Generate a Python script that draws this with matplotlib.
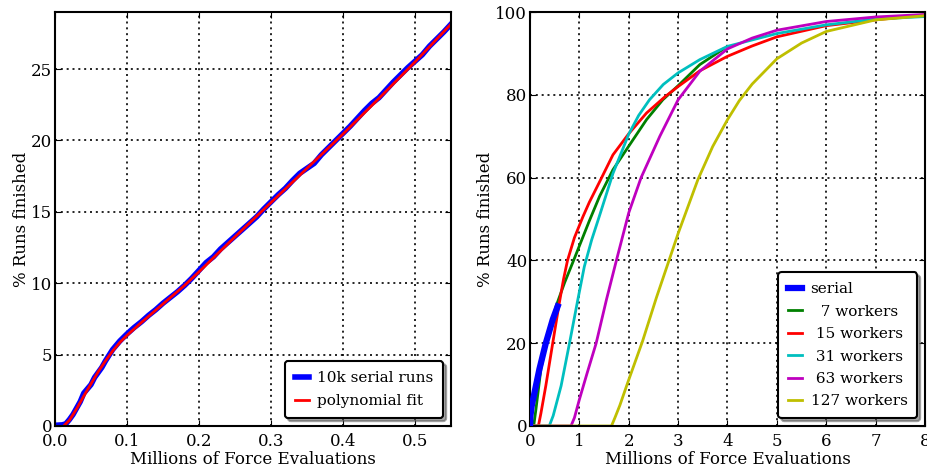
import matplotlib
matplotlib.use("Agg")
import matplotlib.pyplot as plt

# data: serial runs (left panel)
serial_x = [0.0, 0.01, 0.015, 0.02, 0.025, 0.03, 0.035, 0.04, 0.045, 0.05, 0.055, 0.06,
            0.065, 0.07, 0.075, 0.08, 0.085, 0.09, 0.095, 0.10, 0.11, 0.12, 0.13, 0.14,
            0.15, 0.16, 0.17, 0.18, 0.19, 0.20, 0.21, 0.22, 0.23, 0.24, 0.25, 0.26,
            0.27, 0.28, 0.29, 0.30, 0.31, 0.32, 0.33, 0.34, 0.35, 0.36, 0.37, 0.38,
            0.39, 0.40, 0.41, 0.42, 0.43, 0.44, 0.45, 0.46, 0.47, 0.48, 0.49, 0.50,
            0.51, 0.52, 0.53, 0.54, 0.55]
serial_y = [0.05, 0.08, 0.15, 0.45, 0.8, 1.25, 1.7, 2.3, 2.6, 2.9, 3.4, 3.75,
            4.1, 4.55, 4.95, 5.35, 5.65, 5.95, 6.2, 6.45, 6.9, 7.3, 7.75, 8.15,
            8.6, 9.0, 9.4, 9.85, 10.35, 10.9, 11.45, 11.85, 12.4, 12.85, 13.3, 13.75,
            14.2, 14.65, 15.2, 15.7, 16.2, 16.65, 17.2, 17.7, 18.05, 18.4, 19.0, 19.5,
            20.0, 20.5, 21.0, 21.55, 22.1, 22.6, 23.0, 23.55, 24.1, 24.6, 25.1, 25.55,
            26.0, 26.6, 27.1, 27.6, 28.15]

fit_x = [0.012, 0.02, 0.03, 0.04, 0.05, 0.06, 0.07, 0.08, 0.09, 0.10, 0.12, 0.15,
         0.18, 0.20, 0.25, 0.30, 0.35, 0.40, 0.45, 0.50, 0.55]
fit_y = [0.0, 0.4, 1.2, 2.1, 2.95, 3.8, 4.55, 5.25, 5.85, 6.35, 7.25, 8.55,
         9.85, 10.8, 13.25, 15.65, 18.05, 20.45, 22.95, 25.5, 28.15]

# data: parallel runs (right panel)
ser_x = [0, 0.01, 0.034, 0.09, 0.19, 0.32, 0.46, 0.56]
ser_y = [0, 2.5, 4.8, 8, 13.7, 20, 25.7, 28.9]

w7_x = [0, 0.075, 0.12, 0.22, 0.36, 0.53, 0.70, 0.90, 1.0, 1.2, 1.41, 1.68, 2.0,
        2.36, 2.69, 3.0, 3.44, 3.91]
w7_y = [0, 0, 4, 13.7, 21.7, 29, 34.6, 40.5, 43.5, 49.5, 55.5, 61.9, 67.6,
        74, 78.8, 82.2, 87.3, 91]

w15_x = [0, 0.17, 0.22, 0.32, 0.46, 0.59, 0.68, 0.76, 0.9, 1.07, 1.2, 1.41, 1.68, 2.0,
         2.36, 2.73, 3.0, 3.44, 4.0, 4.5, 5.0, 6.0, 7.0, 8.0]
w15_y = [0, 0, 3, 9.7, 20, 29.5, 35.5, 40, 45.5, 50.5, 54, 59, 65.5, 70.6,
         75.6, 79.5, 82, 85.8, 89.3, 91.8, 94, 96.7, 98.1, 99.3]

w31_x = [0, 0.39, 0.47, 0.63, 0.80, 0.97, 1.10, 1.25, 1.4, 1.68, 2.0, 2.2, 2.42, 2.7,
         3.0, 3.44, 4.0, 5.0, 6.0, 7.0, 8.0]
w31_y = [0, 0, 2.5, 9.7, 20, 30.6, 38.5, 45, 50.5, 61, 70.5, 75, 78.8, 82.5,
         85.3, 88.5, 91.7, 94.8, 96.9, 98.3, 98.9]

w63_x = [0, 0.83, 0.9, 1.0, 1.15, 1.34, 1.55, 1.75, 2.0, 2.25, 2.63, 3.0, 3.44, 4.0,
         4.5, 5.0, 6.0, 7.0, 8.0]
w63_y = [0, 0, 2, 6.4, 12.5, 20, 30.6, 40, 51.5, 60, 70, 78.8, 85.7, 91.1,
         93.7, 95.6, 97.7, 98.8, 99.4]

w127_x = [0, 1.65, 1.72, 1.82, 1.98, 2.28, 2.56, 2.83, 3.0, 3.4, 3.7, 4.0, 4.24, 4.5,
          5.0, 5.5, 6.0, 7.0, 8.0]
w127_y = [0, 0, 2, 5, 10.5, 20.5, 31, 40.5, 46.5, 59.5, 67.5, 74, 78.6, 82.6,
          88.7, 92.5, 95.3, 98.1, 99.1]

workers = [("  7 workers", w7_x, w7_y, (0, 0.5, 0)),
           (" 15 workers", w15_x, w15_y, (1, 0, 0)),
           (" 31 workers", w31_x, w31_y, (0, 0.75, 0.75)),
           (" 63 workers", w63_x, w63_y, (0.75, 0, 0.75)),
           ("127 workers", w127_x, w127_y, (0.75, 0.75, 0))]

plt.rcParams["font.family"] = ["DejaVu Serif"]
plt.rcParams["font.size"] = 12
plt.rcParams["legend.fontsize"] = 11
plt.rcParams["xtick.direction"] = "in"
plt.rcParams["ytick.direction"] = "in"
plt.rcParams["xtick.top"] = True
plt.rcParams["ytick.right"] = True
plt.rcParams["xtick.major.size"] = 4
plt.rcParams["ytick.major.size"] = 4
plt.rcParams["xtick.major.pad"] = 5
plt.rcParams["ytick.major.pad"] = 2
plt.rcParams["axes.linewidth"] = 1.5

fig = plt.figure(figsize=(9.28, 4.71), dpi=100)
ax1 = fig.add_axes([55 / 928, 45 / 471, 396 / 928, 414 / 471])
ax2 = fig.add_axes([530 / 928, 45 / 471, 395 / 928, 414 / 471])


def style_axes(ax, spacing):
    ax.grid(True, color="black", linestyle=(0, (1.2, 2.3)), linewidth=1.2)
    ax.set_xlabel("Millions of Force Evaluations", labelpad=1)
    ax.set_ylabel("% Runs finished", labelpad=1)
    leg = ax.legend(loc="lower right", fancybox=True, shadow=True, handlelength=0.9,
                    handletextpad=0.55, labelspacing=spacing, borderpad=0.65,
                    edgecolor="black", framealpha=1)
    leg.get_frame().set_linewidth(1.5)


# left panel
ax1.plot(serial_x, serial_y, color="blue", linewidth=4, label="10k serial runs")
ax1.plot(fit_x, fit_y, color="red", linewidth=2, label="polynomial fit")
ax1.set_xlim(0, 0.55)
ax1.set_ylim(0, 29)
ax1.set_xticks([0.0, 0.1, 0.2, 0.3, 0.4, 0.5])
ax1.set_yticks([0, 5, 10, 15, 20, 25])
style_axes(ax1, 0.6)

# right panel
ax2.plot(ser_x, ser_y, color="blue", linewidth=4.5, label="serial", zorder=3)
for label, xs, ys, c in workers:
    ax2.plot(xs, ys, color=c, linewidth=2, label=label)
ax2.set_xlim(0, 8)
ax2.set_ylim(0, 100)
ax2.set_xticks(range(0, 9))
ax2.set_yticks(range(0, 101, 20))
style_axes(ax2, 0.55)

fig.savefig("out.png", dpi=100)
